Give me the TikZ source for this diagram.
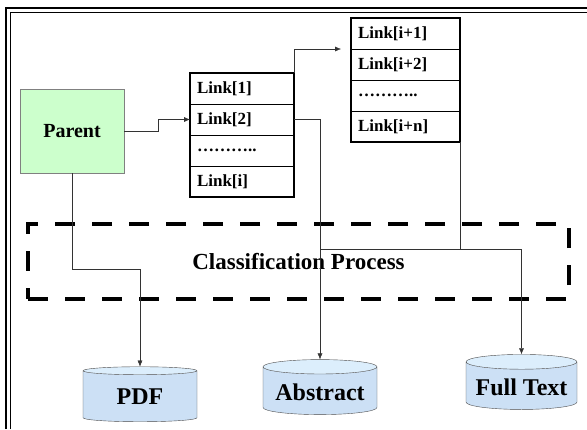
\documentclass[tikz,border=0pt]{standalone}
\usepackage{fontspec}
\setmainfont{Liberation Serif}
\usetikzlibrary{positioning,shapes.geometric,arrows.meta}

\definecolor{parentgreen}{HTML}{CCFFCC}
\definecolor{dbbody}{HTML}{CCE0F5}
\definecolor{dbtop}{HTML}{DCEEFC}

\tikzset{
  linkrow/.style={draw, outer sep=0, minimum width=104, minimum height=31,
    inner xsep=7, text width=90, align=left,
    font=\fontsize{17}{19}\selectfont\bfseries},
  db/.style={cylinder, shape border rotate=90, draw=black!70, aspect=0.15,
    cylinder uses custom fill, cylinder body fill=dbbody,
    cylinder end fill=dbtop, minimum width=114, minimum height=55,
    font=\fontsize{24}{26}\selectfont\bfseries},
  link/.style={draw=black!80, -{Latex[length=6,width=5]}},
}

\begin{document}
\begin{tikzpicture}[x=1pt,y=-1pt]
  \useasboundingbox (0,0) rectangle (587,429);
  % frame
  \draw[line width=2] (6,429) -- (6,7.5) -- (587,7.5);
  \draw (10.5,429) -- (10.5,12) -- (587,12);

  \node[draw=black!50, fill=parentgreen, minimum width=104, minimum height=84,
    font=\fontsize{20}{22}\selectfont\bfseries] (parent) at (72,131) {Parent};

  % first link list
  \node[linkrow, anchor=north west] (la) at (190,73) {Link[1]};
  \node[linkrow, below=0pt of la] (lb) {Link[2]};
  \node[linkrow, below=0pt of lb] (lc) {………..};
  \node[linkrow, below=0pt of lc] (ld) {Link[i]};
  \draw[line width=2] (la.north west) rectangle (ld.south east);

  % second link list
  \node[linkrow, text width=95, anchor=north west] (ma) at (351,18) {Link[i+1]};
  \node[linkrow, text width=95, below=0pt of ma] (mb) {Link[i+2]};
  \node[linkrow, text width=95, below=0pt of mb] (mc) {………..};
  \node[linkrow, text width=95, below=0pt of mc] (md) {Link[i+n]};
  \draw[line width=1.5] (ma.north west) rectangle (md.south east);

  \node[draw, line width=4, dash pattern=on 20 off 17, minimum width=541,
    minimum height=75, font=\fontsize{23}{25}\selectfont\bfseries]
    (classify) at (298.5,261.5) {Classification Process};

  \node[db] (pdf) at (140,397) {PDF};
  \node[db] (abstract) at (320,392) {Abstract};
  \node[db, minimum width=111] (fulltext) at (521.5,387) {Full Text};

  \draw[link] (parent.east) -- ++(34,0) |- (lb.west);
  \draw[link, shorten >=10] (la.north east) |- (ma.south west);
  \draw[link] (lb.east) -| (abstract.north);
  \draw[link] (parent.south) -- ++(0,96) -| (pdf.north);
  \draw[draw=black!80] (md.south east) -- ++(0,107) coordinate (split);
  \draw[draw=black!80] (split) -- (split -| abstract.north);
  \draw[link] (split) -| (fulltext.north);
\end{tikzpicture}
\end{document}
